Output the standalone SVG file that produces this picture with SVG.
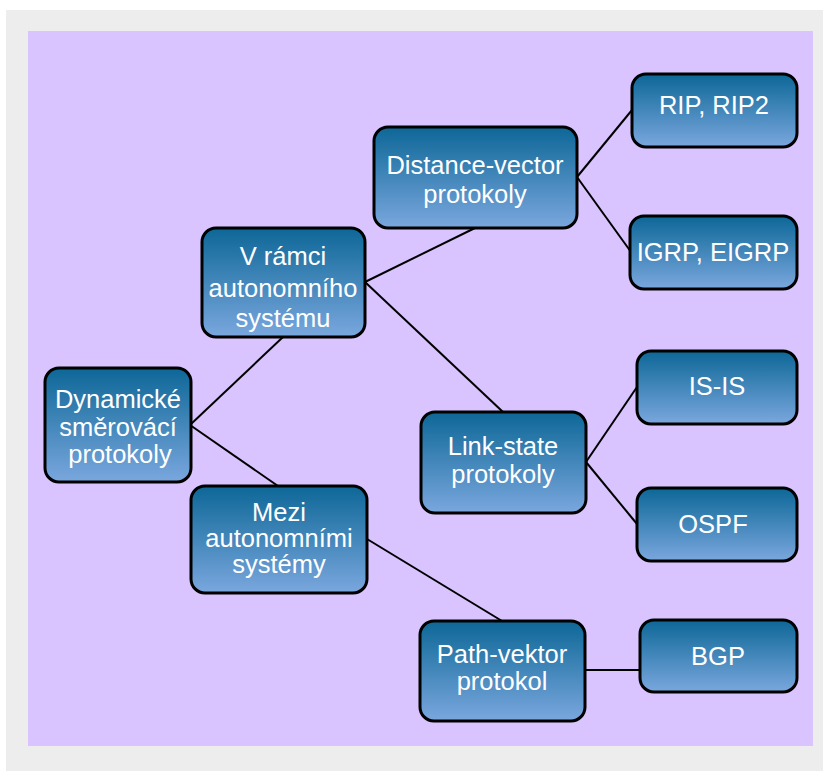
<svg xmlns="http://www.w3.org/2000/svg" width="823" height="771" viewBox="0 0 823 771">
  <defs>
    <linearGradient id="boxFill" x1="0" y1="0" x2="0" y2="1">
      <stop offset="0" stop-color="#0d6797"/>
      <stop offset="1" stop-color="#7aa7de"/>
    </linearGradient>
    <style>
      .box { fill: url(#boxFill); stroke: #000; stroke-width: 3; }
      .lbl { font-family: "Liberation Sans", Arial, sans-serif; font-size: 25.5px; fill: #fff; text-anchor: middle; }
      .link { stroke: #000; stroke-width: 2; fill: none; }
    </style>
  </defs>

  <!-- frame and background -->
  <rect x="6" y="10" width="817" height="761" fill="#ededed"/>
  <rect x="28" y="31" width="785" height="715" fill="#d9c4ff"/>

  <!-- connectors -->
  <g id="connectors" class="link">
    <line x1="190" y1="425" x2="283" y2="337"/>
    <line x1="190" y1="425" x2="278" y2="486"/>
    <line x1="365" y1="282" x2="475" y2="228"/>
    <line x1="365" y1="282" x2="503" y2="412"/>
    <line x1="577" y1="177" x2="632" y2="110"/>
    <line x1="577" y1="177" x2="631" y2="252"/>
    <line x1="586" y1="462" x2="637" y2="387"/>
    <line x1="586" y1="462" x2="637" y2="524"/>
    <line x1="367" y1="539" x2="502" y2="621"/>
    <line x1="585" y1="670" x2="640" y2="670"/>
  </g>

  <g id="dynamicke">
    <rect class="box" x="45" y="368" width="146" height="114" rx="14"/>
    <text class="lbl" x="118" y="408">Dynamické</text>
    <text class="lbl" x="118" y="436">směrovácí</text>
    <text class="lbl" x="120" y="463">protokoly</text>
  </g>

  <g id="v-ramci">
    <rect class="box" x="202" y="228" width="163" height="109" rx="14"/>
    <text class="lbl" x="283" y="265">V rámci</text>
    <text class="lbl" x="283" y="297">autonomního</text>
    <text class="lbl" x="283" y="327">systému</text>
  </g>

  <g id="mezi">
    <rect class="box" x="191" y="486" width="176" height="107" rx="14"/>
    <text class="lbl" x="279" y="521">Mezi</text>
    <text class="lbl" x="279" y="547">autonomními</text>
    <text class="lbl" x="279" y="573">systémy</text>
  </g>

  <g id="distance-vector">
    <rect class="box" x="374" y="127" width="203" height="101" rx="14"/>
    <text class="lbl" x="475" y="174">Distance-vector</text>
    <text class="lbl" x="475" y="203">protokoly</text>
  </g>

  <g id="link-state">
    <rect class="box" x="421" y="412" width="165" height="101" rx="14"/>
    <text class="lbl" x="503" y="455">Link-state</text>
    <text class="lbl" x="503" y="483">protokoly</text>
  </g>

  <g id="path-vektor">
    <rect class="box" x="420" y="621" width="165" height="100" rx="14"/>
    <text class="lbl" x="502" y="663">Path-vektor</text>
    <text class="lbl" x="502" y="690">protokol</text>
  </g>

  <g id="rip">
    <rect class="box" x="632" y="74" width="165" height="73" rx="14"/>
    <text class="lbl" x="714" y="114">RIP, RIP2</text>
  </g>

  <g id="igrp">
    <rect class="box" x="630" y="216" width="167" height="73" rx="14"/>
    <text class="lbl" x="713" y="261">IGRP, EIGRP</text>
  </g>

  <g id="is-is">
    <rect class="box" x="637" y="351" width="160" height="73" rx="14"/>
    <text class="lbl" x="717" y="395">IS-IS</text>
  </g>

  <g id="ospf">
    <rect class="box" x="637" y="488" width="160" height="73" rx="14"/>
    <text class="lbl" x="713" y="533">OSPF</text>
  </g>

  <g id="bgp">
    <rect class="box" x="640" y="620" width="157" height="72" rx="14"/>
    <text class="lbl" x="718" y="665">BGP</text>
  </g>
</svg>
